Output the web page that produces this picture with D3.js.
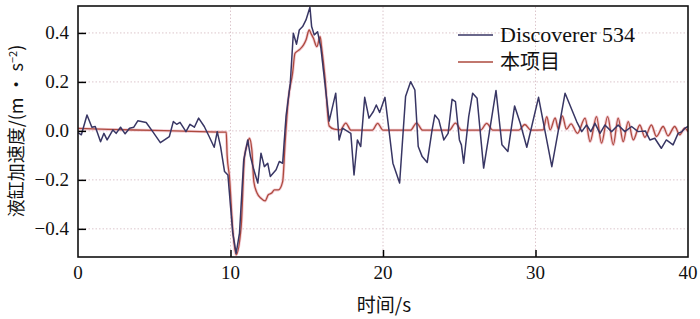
<!DOCTYPE html>
<html>
<head>
<meta charset="utf-8">
<script src="https://cdn.jsdelivr.net/npm/d3@7"></script>
<style>
  body { margin: 0; background: #fff; }
  svg { display: block; }
</style>
</head>
<body>
<script>
const width = 700;
const height = 319;
const margin = { left: 78, right: 10, top: 6, bottom: 62 };

// Discoverer 534 (measured)
const discTime = [0, 0.22, 0.59, 0.91, 1.13, 1.48, 1.70, 1.91, 2.29, 2.5, 2.79, 3.09, 3.38, 3.66, 3.92, 4.47, 4.9, 5.4, 5.99, 6.25,
  6.47, 6.69, 7.08, 7.34, 7.63, 7.91, 8.28, 8.6, 8.93, 9.13, 9.35, 9.61, 9.83, 10.15, 10.37, 10.59, 10.87, 11.13, 11.31, 11.53,
  11.79, 12.0, 12.22, 12.44, 12.61, 12.99, 13.2, 13.42, 13.64, 13.92, 14.12, 14.33, 14.51, 14.73, 14.95, 15.21, 15.32, 15.49, 15.71, 15.93,
  16.14, 16.47, 16.9, 17.12, 17.34, 17.89, 18.1, 18.32, 18.54, 18.8, 19.08, 19.37, 19.56, 19.78, 20.13, 20.39, 20.65, 21.09, 21.48, 21.81,
  22.09, 22.31, 22.57, 22.9, 23.22, 23.4, 23.66, 23.99, 24.27, 24.53, 24.75, 25.01, 25.14, 25.29, 25.62, 25.88, 26.17, 26.6, 26.93, 27.41,
  27.8, 28.19, 28.63, 29.0, 29.43, 30.2, 31.07, 31.94, 32.7, 33.03, 33.35, 33.63, 33.9, 34.23, 34.55, 34.99, 35.42, 35.86, 36.3, 36.73,
  37.2, 37.5, 37.82, 38.25, 38.58, 39.02, 39.35, 39.6, 39.8, 40];
const discValue = [-0.007, -0.016, 0.065, 0.015, 0.018, -0.044, -0.01, -0.037, 0.004, -0.01, 0.015, -0.012, 0.011, 0.015, 0.041, 0.034, -0.003, -0.048, -0.023, 0.038,
  0.027, 0.035, -0.003, 0.027, 0.015, 0.052, 0.018, -0.023, -0.067, -0.003, -0.064, -0.166, -0.18, -0.418, -0.50, -0.418, -0.118, -0.037, -0.105, -0.159,
  -0.213, -0.091, -0.146, -0.132, -0.186, -0.159, -0.125, -0.132, 0.058, 0.195, 0.399, 0.354, 0.412, 0.426, 0.453, 0.505, 0.426, 0.392, 0.405, 0.338,
  0.222, 0.04, 0.154, -0.037, 0.011, -0.01, -0.18, -0.037, -0.064, 0.137, 0.052, 0.079, 0.106, 0.075, 0.137, 0.004, -0.132, -0.213, 0.14, 0.201,
  0.167, -0.064, -0.105, -0.129, 0.004, 0.065, 0.045, -0.037, -0.01, 0.129, 0.12, -0.037, -0.057, -0.132, 0.058, 0.154, 0.133, -0.152, -0.023, 0.165,
  -0.057, -0.084, 0.102, 0.031, -0.067, 0.137, -0.146, 0.154, 0.038, -0.003, 0.024, -0.003, 0.031, -0.01, 0.024, -0.003, 0.024, -0.003, 0.018, -0.003,
  0.0, -0.037, -0.03, -0.071, -0.037, -0.057, -0.01, -0.003, 0.011, 0.018];

// 本项目 (measured)
const projTime = [0, 2, 5, 8, 9.72, 9.78, 9.93, 10.15, 10.37, 10.7, 10.92, 11.13, 11.24, 11.4, 11.53, 11.74, 12.0, 12.27, 12.48, 12.7,
  12.88, 13.14, 13.42, 13.58, 13.79, 14.07, 14.23, 14.51, 14.79, 14.95, 15.16, 15.27, 15.44, 15.66, 15.88, 15.97, 16.19, 16.47, 16.8, 17.2,
  17.56, 17.9, 19.3, 19.65, 20.0, 21.8, 22.2, 22.6, 24.35, 24.75, 25.15, 26.4, 26.8, 27.2, 28.9, 29.3, 29.7, 30.5, 30.74, 30.96,
  31.29, 31.5, 31.76, 32.03, 32.33, 32.75, 33.25, 33.58, 34.0, 34.33, 34.73, 35.1, 35.42, 35.75, 36.08, 36.41, 36.84, 37.17, 37.6, 37.93,
  38.37, 38.69, 39.13, 39.46, 39.78, 40];
const projValue = [0.01, 0.006, 0.002, -0.003, -0.005, -0.1, -0.186, -0.404, -0.506, -0.39, -0.105, -0.05, -0.03, -0.078, -0.207, -0.254, -0.275, -0.286, -0.261, -0.254,
  -0.241, -0.241, -0.207, -0.05, 0.127, 0.235, 0.317, 0.331, 0.351, 0.371, 0.412, 0.399, 0.378, 0.344, 0.385, 0.344, 0.222, 0.02, 0.007, 0.004,
  0.032, 0.003, 0.003, 0.031, 0.003, 0.003, 0.032, 0.003, 0.003, 0.032, 0.003, 0.003, 0.031, 0.003, 0.003, 0.026, 0.003, 0.004, 0.058, 0.004,
  0.053, 0.007, 0.061, 0.007, 0.029, -0.01, 0.052, -0.044, 0.058, -0.05, 0.058, -0.057, 0.052, -0.044, 0.038, -0.037, 0.024, -0.026, 0.024, -0.023,
  0.018, -0.02, 0.018, -0.016, 0.011, -0.003];

const xTicks = [0, 10, 20, 30, 40];
const xTickLabels = ['0', '10', '20', '30', '40'];
const yTicks = [-0.4, -0.2, 0, 0.2, 0.4];
const yTickLabels = ['\u22120.4', '\u22120.2', '0.0', '0.2', '0.4'];
const seriesNames = ['Discoverer 534', '本项目'];

const svg = d3.select('body')
  .append('svg')
  .attr('width', width)
  .attr('height', height);

const x = d3.scaleLinear()
  .domain([0, 40])
  .range([margin.left, width - margin.right - 2]);

const y = d3.scaleLinear()
  .domain([-0.515, 0.51])
  .range([height - margin.bottom, margin.top]);

const x0 = x.range()[0], x1 = x.range()[1];
const y0 = y.range()[0], y1 = y.range()[1];

// grid
svg.append('g')
  .selectAll('line')
  .data(yTicks)
  .join('line')
  .attr('x1', x0).attr('x2', x1)
  .attr('y1', d => y(d)).attr('y2', d => y(d))
  .attr('stroke', '#dcc6cc')
  .attr('stroke-width', 1)
  .attr('stroke-dasharray', '1.5,2');

svg.append('g')
  .selectAll('line')
  .data([10, 20, 30])
  .join('line')
  .attr('x1', d => x(d)).attr('x2', d => x(d))
  .attr('y1', y0).attr('y2', y1)
  .attr('stroke', '#dcc6cc')
  .attr('stroke-width', 1)
  .attr('stroke-dasharray', '1.5,2');

svg.append('clipPath')
  .attr('id', 'clip')
  .append('rect')
  .attr('x', x0).attr('y', y1)
  .attr('width', x1 - x0).attr('height', y0 - y1);

const plot = svg.append('g').attr('clip-path', 'url(#clip)');

const projData = projTime.map((t, i) => [t, projValue[i]]);
const discData = discTime.map((t, i) => [t, discValue[i]]);

const smoothLine = d3.line()
  .x(d => x(d[0]))
  .y(d => y(d[1]))
  .curve(d3.curveMonotoneX);

const jagLine = d3.line()
  .x(d => x(d[0]))
  .y(d => y(d[1]));

plot.append('path')
  .datum(projData)
  .attr('d', smoothLine)
  .attr('fill', 'none')
  .attr('stroke', '#f3cdd6')
  .attr('stroke-width', 3)
  .attr('stroke-linejoin', 'round');

plot.append('path')
  .datum(projData)
  .attr('d', smoothLine)
  .attr('fill', 'none')
  .attr('stroke', '#ad4a3e')
  .attr('stroke-width', 1.3)
  .attr('stroke-linejoin', 'round');

plot.append('path')
  .datum(discData)
  .attr('d', jagLine)
  .attr('fill', 'none')
  .attr('stroke', '#383664')
  .attr('stroke-width', 1.5)
  .attr('stroke-linejoin', 'round');

// axes with inward ticks
svg.append('g')
  .attr('transform', `translate(0,${y0})`)
  .call(d3.axisBottom(x).tickValues([10, 20, 30]).tickSize(-7).tickFormat(''))
  .call(g => g.select('.domain').remove())
  .call(g => g.selectAll('line').attr('stroke', '#000').attr('stroke-width', 1.5));

svg.append('g')
  .attr('transform', `translate(${x0},0)`)
  .call(d3.axisLeft(y).tickValues(yTicks).tickSize(-8).tickFormat(''))
  .call(g => g.select('.domain').remove())
  .call(g => g.selectAll('line').attr('stroke', '#000').attr('stroke-width', 1.5));

svg.append('rect')
  .attr('x', x0).attr('y', y1)
  .attr('width', x1 - x0).attr('height', y0 - y1)
  .attr('fill', 'none')
  .attr('stroke', '#111')
  .attr('stroke-width', 1.6);

// tick labels
svg.append('g')
  .selectAll('text')
  .data(xTicks)
  .join('text')
  .attr('x', d => x(d))
  .attr('y', 279)
  .attr('text-anchor', 'middle')
  .attr('font-family', 'Liberation Serif, serif')
  .attr('font-size', 19)
  .attr('fill', '#111')
  .text((d, i) => xTickLabels[i]);

svg.append('g')
  .selectAll('text')
  .data(yTicks)
  .join('text')
  .attr('x', 69)
  .attr('y', d => y(d) + 6)
  .attr('text-anchor', 'end')
  .attr('font-family', 'Liberation Serif, serif')
  .attr('font-size', 19)
  .attr('fill', '#111')
  .text((d, i) => yTickLabels[i]);

// axis titles
svg.append('text')
  .attr('x', 384)
  .attr('y', 312)
  .attr('text-anchor', 'middle')
  .attr('font-family', 'Noto Sans CJK SC, sans-serif')
  .attr('font-size', 19)
  .attr('fill', '#111')
  .text('时间/s');

const yTitle = svg.append('text')
  .attr('transform', 'translate(23,131) rotate(-90)')
  .attr('text-anchor', 'middle')
  .attr('font-family', 'Noto Sans CJK SC, sans-serif')
  .attr('font-size', 18)
  .attr('fill', '#111');
yTitle.append('tspan').text('液缸加速度/(m · s');
yTitle.append('tspan').attr('dy', -6).attr('font-size', 11).text('−2');
yTitle.append('tspan').attr('dy', 6).text(')');

// legend
const legendColors = ['#383664', '#ad4a3e'];
const legend = svg.append('g');
seriesNames.forEach((name, i) => {
  const ly = 35 + i * 27;
  legend.append('line')
    .attr('x1', 458).attr('x2', 493)
    .attr('y1', ly).attr('y2', ly)
    .attr('stroke', legendColors[i])
    .attr('stroke-width', 1.6);
  legend.append('text')
    .attr('x', 500)
    .attr('y', ly + 7)
    .attr('font-family', i === 0 ? 'Liberation Serif, serif' : 'Noto Sans CJK SC, sans-serif')
    .attr('font-size', i === 0 ? 22 : 20)
    .attr('fill', '#111')
    .text(name);
});
</script>
</body>
</html>
